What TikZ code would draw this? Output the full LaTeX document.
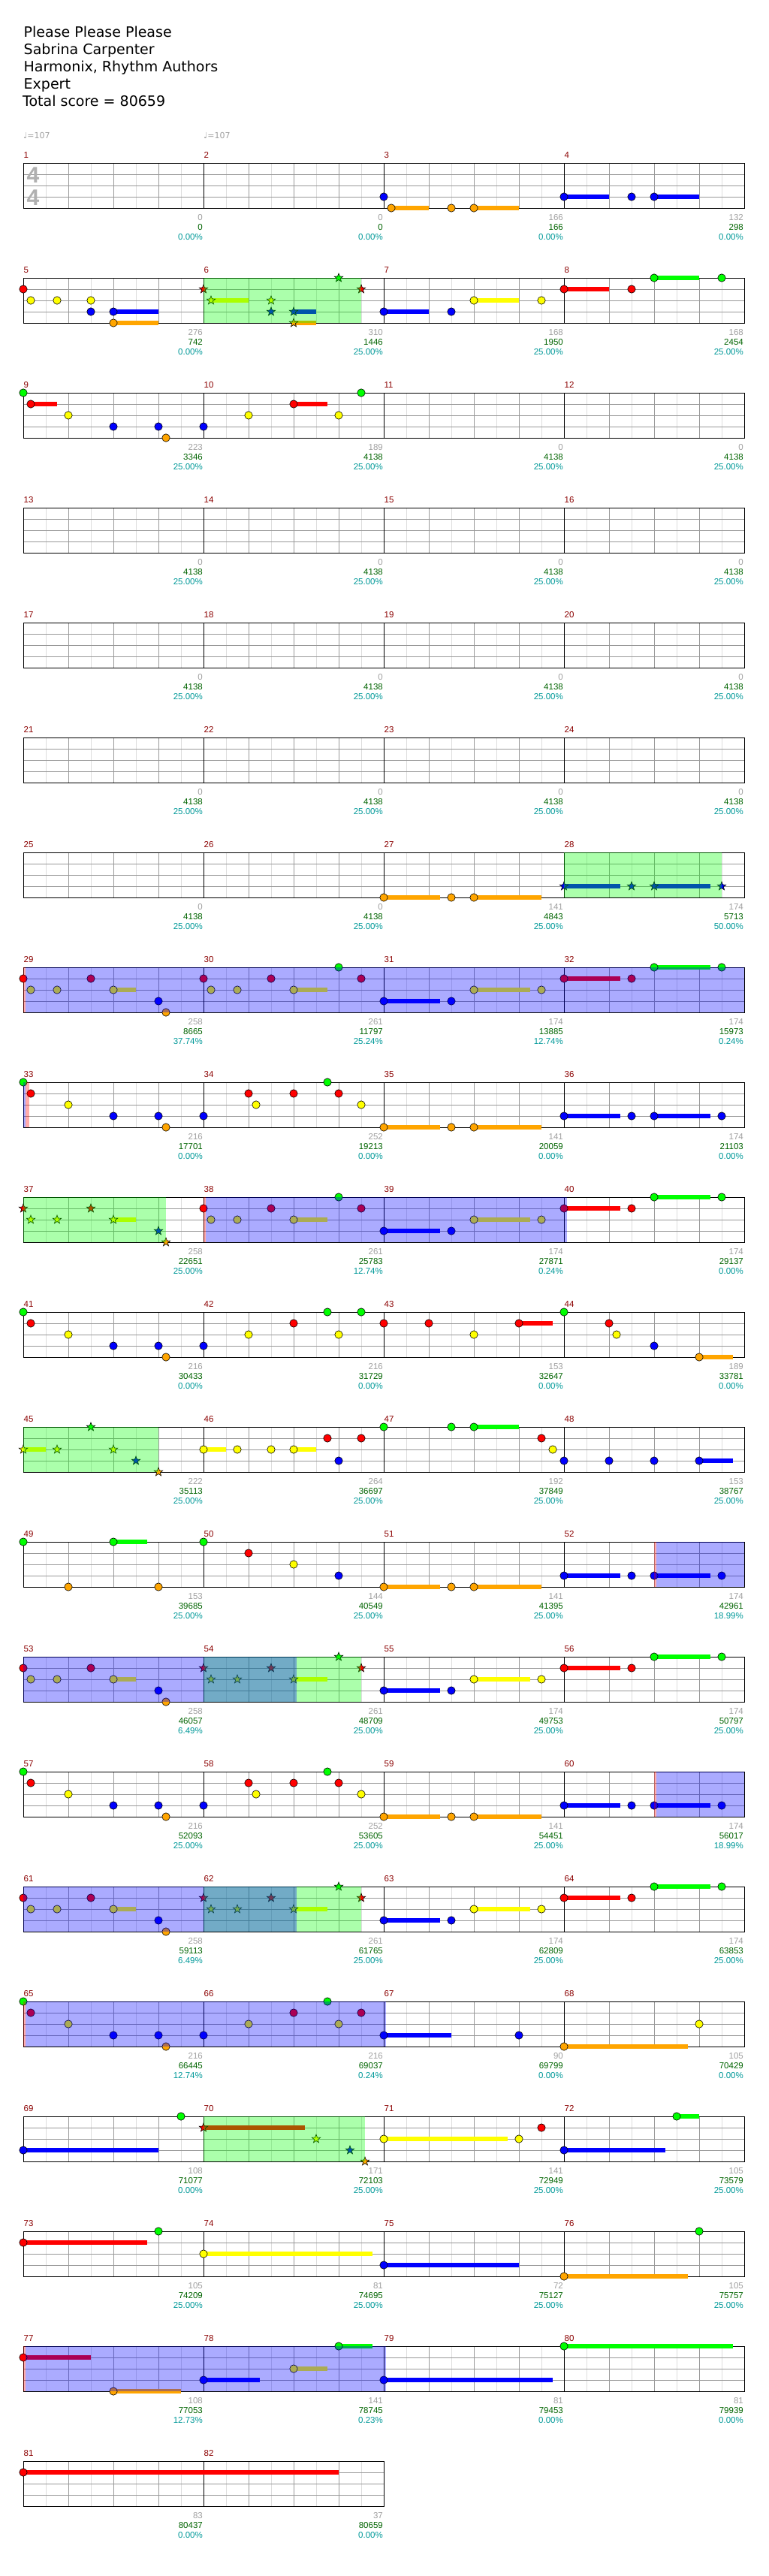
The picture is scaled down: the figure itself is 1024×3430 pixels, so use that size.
\documentclass[tikz,border=0pt]{standalone}
\usepackage{fontspec}
\setmainfont{DejaVu Sans}
\newfontfamily\labelfont{Liberation Sans}
\newfontfamily\sigfont{Liberation Sans}
\usepackage{tikz}
\definecolor{gemG}{RGB}{0,255,0}
\definecolor{gemR}{RGB}{255,0,0}
\definecolor{gemY}{RGB}{255,255,0}
\definecolor{gemB}{RGB}{0,0,255}
\definecolor{gemO}{RGB}{255,165,0}
\definecolor{LineGray}{RGB}{153,153,153}
\definecolor{FaintGray}{RGB}{221,221,221}
\definecolor{NumRed}{RGB}{139,0,0}
\definecolor{ScoreGray}{RGB}{160,160,160}
\definecolor{ScoreGreen}{RGB}{0,100,0}
\definecolor{ScoreTeal}{RGB}{0,153,153}
\definecolor{SigGray}{RGB}{176,176,176}

\def\laneG{0}\def\laneR{1}\def\laneY{2}\def\laneB{3}\def\laneO{4}

% measure, offset -> \mx (x) and \my (top of staff)
\newcommand\mpos[2]{%
  \pgfmathtruncatemacro\mrow{(#1-1)/4}%
  \pgfmathtruncatemacro\mcol{#1-1-4*\mrow}%
  \pgfmathsetmacro\mx{31+240*\mcol+#2}%
  \pgfmathsetmacro\my{217+153*\mrow}}
\newcommand\lanepos[3]{\mpos{#1}{#2}\pgfmathsetmacro\ny{\my+15*\csname lane#3\endcsname}}

\newcommand\gem[3]{\lanepos{#1}{#2}{#3}%
  \filldraw[gem, fill=gem#3] (\mx,\ny) circle[radius=5.2];}
\newcommand\sus[4]{\lanepos{#1}{#2}{#4}\pgfmathsetmacro\ex{\mx+#3-#2}%
  \fill[gem#4] (\mx,\ny-3.3) rectangle (\ex,\ny+3.3);
  \filldraw[gem, fill=gem#4] (\mx,\ny) circle[radius=5.2];}
\newcommand\stargem[3]{\lanepos{#1}{#2}{#3}%
  \filldraw[gem, fill=gem#3, shift={(\mx,\ny)}] (0,-6) -- (1.47,-2.02) -- (5.71,-1.85)
    -- (2.38,0.77) -- (3.53,4.85) -- (0,2.5) -- (-3.53,4.85) -- (-2.38,0.77)
    -- (-5.71,-1.85) -- (-1.47,-2.02) -- cycle;}
\newcommand\starsus[4]{\lanepos{#1}{#2}{#4}\pgfmathsetmacro\ex{\mx+#3-#2}%
  \fill[gem#4] (\mx,\ny-3.3) rectangle (\ex,\ny+3.3);
  \stargem{#1}{#2}{#4}}
\newcommand\zone[4]{\mpos{#1}{#2}\pgfmathsetmacro\ex{\mx+#3-#2}%
  \fill[#4, opacity=.33] (\mx,\my) rectangle (\ex,\my+60);}

\begin{document}
\begin{tikzpicture}[
    x=1pt, y=-1pt,
    faint/.style={FaintGray, line width=1pt},
    beat/.style={LineGray, line width=1pt},
    barline/.style={black, line width=1pt},
    gem/.style={draw=black, line width=0.6pt},
    head/.style={font=\fontsize{19}{23}\selectfont, anchor=base west, inner sep=0pt},
    tempo/.style={ScoreGray, font=\fontsize{11}{12}\selectfont, anchor=base west, inner sep=0pt},
    sig/.style={SigGray, font=\sigfont\bfseries\fontsize{30}{30}\selectfont, anchor=base, inner sep=0pt},
    mnum/.style={NumRed, font=\labelfont\fontsize{11.5}{12}\selectfont, anchor=base west, inner sep=0pt},
    sgray/.style={ScoreGray, font=\labelfont\fontsize{11.5}{12}\selectfont, anchor=base east, inner sep=0pt},
    sgreen/.style={sgray, ScoreGreen},
    steal/.style={sgray, ScoreTeal}
]
    \fill[white] (0,0) rectangle (1024,3430);
    \useasboundingbox (0,0) rectangle (1024,3430);

    \node[head] (song) at (31.5,49) {Please Please Please};
    \node[head] (artist) at (31.5,72) {Sabrina Carpenter};
    \node[head] (charter) at (31.5,95) {Harmonix, Rhythm Authors};
    \node[head] (level) at (31.5,118) {Expert};
    \node[head] (total) at (30,141.5) {Total score = 80659};

    \node[tempo] (bpm1) at (31,184) {♩=107};
    \node[tempo] (bpm2) at (271,184) {♩=107};

    % staves
    \foreach \r in {0,...,20} {
        \pgfmathsetmacro\yt{217+153*\r}
        \ifnum\r<20 \def\nm{4}\else\def\nm{2}\fi
        \pgfmathtruncatemacro\nb{4*\nm}
        \pgfmathsetmacro\xr{31+240*\nm}
        \foreach \k in {1,...,\nb} \draw[faint] ({1+60*\k},\yt) -- ++(0,60);
        \foreach \k in {1,...,\nb} \draw[beat] ({31+60*\k},\yt) -- ++(0,60);
        \foreach \l in {15,30,45} \draw[beat] (31,\yt+\l) -- (\xr,\yt+\l);
        \foreach \k in {1,...,\nm} \draw[barline] ({31+240*\k},\yt) -- ++(0,60);
        \draw[barline] (31,\yt) rectangle (\xr,\yt+60);
    }

    \node[sig] (sigtop) at (44,243.3) {4};
    \node[sig] (sigbot) at (44,273.3) {4};

    % notes
    \gem{3}{0}{B} \sus{3}{10}{60}{O} \gem{3}{90}{O} \sus{3}{120}{180}{O}
    \sus{4}{0}{60}{B} \gem{4}{90}{B} \sus{4}{120}{180}{B}

    \gem{5}{0}{R} \gem{5}{10}{Y} \gem{5}{45}{Y} \gem{5}{90}{Y} \gem{5}{90}{B} \sus{5}{120}{180}{B} \sus{5}{120}{180}{O}
    \stargem{6}{0}{R} \starsus{6}{10}{60}{Y} \stargem{6}{90}{Y} \stargem{6}{90}{B} \starsus{6}{120}{150}{B} \starsus{6}{120}{150}{O} \stargem{6}{180}{G} \stargem{6}{210}{R}
    \sus{7}{0}{60}{B} \gem{7}{90}{B} \sus{7}{120}{180}{Y} \gem{7}{210}{Y}
    \sus{8}{0}{60}{R} \gem{8}{90}{R} \sus{8}{120}{180}{G} \gem{8}{210}{G}

    \gem{9}{0}{G} \sus{9}{10}{45}{R} \gem{9}{60}{Y} \gem{9}{120}{B} \gem{9}{180}{B} \gem{9}{190}{O}
    \gem{10}{0}{B} \gem{10}{60}{Y} \sus{10}{120}{165}{R} \gem{10}{180}{Y} \gem{10}{210}{G}

    \sus{27}{0}{75}{O} \gem{27}{90}{O} \sus{27}{120}{210}{O}
    \starsus{28}{0}{75}{B} \stargem{28}{90}{B} \starsus{28}{120}{195}{B} \stargem{28}{210}{B}

    \gem{29}{0}{R} \gem{29}{10}{Y} \gem{29}{45}{Y} \gem{29}{90}{R} \sus{29}{120}{150}{Y} \gem{29}{180}{B} \gem{29}{190}{O}
    \gem{30}{0}{R} \gem{30}{10}{Y} \gem{30}{45}{Y} \gem{30}{90}{R} \sus{30}{120}{165}{Y} \gem{30}{180}{G} \gem{30}{210}{R}
    \sus{31}{0}{75}{B} \gem{31}{90}{B} \sus{31}{120}{195}{Y} \gem{31}{210}{Y}
    \sus{32}{0}{75}{R} \gem{32}{90}{R} \sus{32}{120}{195}{G} \gem{32}{210}{G}

    \gem{33}{0}{G} \gem{33}{10}{R} \gem{33}{60}{Y} \gem{33}{120}{B} \gem{33}{180}{B} \gem{33}{190}{O}
    \gem{34}{0}{B} \gem{34}{60}{R} \gem{34}{70}{Y} \gem{34}{120}{R} \gem{34}{165}{G} \gem{34}{180}{R} \gem{34}{210}{Y}
    \sus{35}{0}{75}{O} \gem{35}{90}{O} \sus{35}{120}{210}{O}
    \sus{36}{0}{75}{B} \gem{36}{90}{B} \sus{36}{120}{195}{B} \gem{36}{210}{B}

    \stargem{37}{0}{R} \stargem{37}{10}{Y} \stargem{37}{45}{Y} \stargem{37}{90}{R} \starsus{37}{120}{150}{Y} \stargem{37}{180}{B} \stargem{37}{190}{O}
    \gem{38}{0}{R} \gem{38}{10}{Y} \gem{38}{45}{Y} \gem{38}{90}{R} \sus{38}{120}{165}{Y} \gem{38}{180}{G} \gem{38}{210}{R}
    \sus{39}{0}{75}{B} \gem{39}{90}{B} \sus{39}{120}{195}{Y} \gem{39}{210}{Y}
    \sus{40}{0}{75}{R} \gem{40}{90}{R} \sus{40}{120}{195}{G} \gem{40}{210}{G}

    \gem{41}{0}{G} \gem{41}{10}{R} \gem{41}{60}{Y} \gem{41}{120}{B} \gem{41}{180}{B} \gem{41}{190}{O}
    \gem{42}{0}{B} \gem{42}{60}{Y} \gem{42}{120}{R} \gem{42}{165}{G} \gem{42}{180}{Y} \gem{42}{210}{G}
    \gem{43}{0}{R} \gem{43}{60}{R} \gem{43}{120}{Y} \sus{43}{180}{225}{R}
    \gem{44}{0}{G} \gem{44}{60}{R} \gem{44}{70}{Y} \gem{44}{120}{B} \sus{44}{180}{225}{O}

    \starsus{45}{0}{30}{Y} \stargem{45}{45}{Y} \stargem{45}{90}{G} \stargem{45}{120}{Y} \stargem{45}{150}{B} \stargem{45}{180}{O}
    \sus{46}{0}{30}{Y} \gem{46}{45}{Y} \gem{46}{90}{Y} \sus{46}{120}{150}{Y} \gem{46}{165}{R} \gem{46}{180}{B} \gem{46}{210}{R}
    \gem{47}{0}{G} \gem{47}{90}{G} \sus{47}{120}{180}{G} \gem{47}{210}{R} \gem{47}{225}{Y}
    \gem{48}{0}{B} \gem{48}{60}{B} \gem{48}{120}{B} \sus{48}{180}{225}{B}

    \gem{49}{0}{G} \gem{49}{60}{O} \sus{49}{120}{165}{G} \gem{49}{180}{O}
    \gem{50}{0}{G} \gem{50}{60}{R} \gem{50}{120}{Y} \gem{50}{180}{B}
    \sus{51}{0}{75}{O} \gem{51}{90}{O} \sus{51}{120}{210}{O}
    \sus{52}{0}{75}{B} \gem{52}{90}{B} \sus{52}{120}{195}{B} \gem{52}{210}{B}

    \foreach \m in {53,61} {
        \gem{\m}{0}{R} \gem{\m}{10}{Y} \gem{\m}{45}{Y} \gem{\m}{90}{R} \sus{\m}{120}{150}{Y} \gem{\m}{180}{B} \gem{\m}{190}{O}
    }
    \foreach \m in {54,62} {
        \stargem{\m}{0}{R} \stargem{\m}{10}{Y} \stargem{\m}{45}{Y} \stargem{\m}{90}{R} \starsus{\m}{120}{165}{Y} \stargem{\m}{180}{G} \stargem{\m}{210}{R}
    }
    \foreach \m in {55,63} {
        \sus{\m}{0}{75}{B} \gem{\m}{90}{B} \sus{\m}{120}{195}{Y} \gem{\m}{210}{Y}
    }
    \foreach \m in {56,64} {
        \sus{\m}{0}{75}{R} \gem{\m}{90}{R} \sus{\m}{120}{195}{G} \gem{\m}{210}{G}
    }

    \gem{57}{0}{G} \gem{57}{10}{R} \gem{57}{60}{Y} \gem{57}{120}{B} \gem{57}{180}{B} \gem{57}{190}{O}
    \gem{58}{0}{B} \gem{58}{60}{R} \gem{58}{70}{Y} \gem{58}{120}{R} \gem{58}{165}{G} \gem{58}{180}{R} \gem{58}{210}{Y}
    \sus{59}{0}{75}{O} \gem{59}{90}{O} \sus{59}{120}{210}{O}
    \sus{60}{0}{75}{B} \gem{60}{90}{B} \sus{60}{120}{195}{B} \gem{60}{210}{B}

    \gem{65}{0}{G} \gem{65}{10}{R} \gem{65}{60}{Y} \gem{65}{120}{B} \gem{65}{180}{B} \gem{65}{190}{O}
    \gem{66}{0}{B} \gem{66}{60}{Y} \gem{66}{120}{R} \gem{66}{165}{G} \gem{66}{180}{Y} \gem{66}{210}{R}
    \sus{67}{0}{90}{B} \gem{67}{180}{B}
    \sus{68}{0}{165}{O} \gem{68}{180}{Y}

    \sus{69}{0}{180}{B} \gem{69}{210}{G}
    \starsus{70}{0}{135}{R} \stargem{70}{150}{Y} \stargem{70}{195}{B} \stargem{70}{215}{O}
    \sus{71}{0}{165}{Y} \gem{71}{180}{Y} \gem{71}{210}{R}
    \sus{72}{0}{135}{B} \sus{72}{150}{180}{G}

    \sus{73}{0}{165}{R} \gem{73}{180}{G}
    \sus{74}{0}{225}{Y}
    \sus{75}{0}{180}{B}
    \sus{76}{0}{165}{O} \gem{76}{180}{G}

    \sus{77}{0}{90}{R} \sus{77}{120}{210}{O}
    \sus{78}{0}{75}{B} \sus{78}{120}{165}{Y} \sus{78}{180}{225}{G}
    \sus{79}{0}{225}{B}
    \sus{80}{0}{225}{G}

    \sus{81}{0}{420}{R}

    % overdrive and solo shading
    \zone{6}{0}{210}{green} \zone{28}{0}{210}{green} \zone{37}{0}{190}{green}
    \zone{45}{0}{180}{green} \zone{54}{0}{210}{green} \zone{62}{0}{210}{green}
    \zone{70}{0}{215}{green}
    \zone{29}{2.5}{960}{blue} \zone{33}{0}{2.5}{blue} \zone{38}{3}{484}{blue}
    \zone{52}{123}{240}{blue} \zone{53}{0}{364}{blue} \zone{60}{123}{240}{blue}
    \zone{61}{0}{364}{blue} \zone{65}{3}{483}{blue} \zone{77}{3}{483}{blue}
    \zone{29}{0}{2.5}{red} \zone{33}{2.5}{8}{red} \zone{38}{0}{3}{red}
    \zone{52}{120}{123}{red} \zone{60}{120}{123}{red} \zone{65}{0}{3}{red}
    \zone{77}{0}{3}{red}

    % measure numbers and scores
    \foreach \m/\g/\s/\p in {1/0/0/0.00, 2/0/0/0.00, 3/166/166/0.00, 4/132/298/0.00,
        5/276/742/0.00, 6/310/1446/25.00, 7/168/1950/25.00, 8/168/2454/25.00,
        9/223/3346/25.00, 10/189/4138/25.00, 11/0/4138/25.00, 12/0/4138/25.00,
        13/0/4138/25.00, 14/0/4138/25.00, 15/0/4138/25.00, 16/0/4138/25.00,
        17/0/4138/25.00, 18/0/4138/25.00, 19/0/4138/25.00, 20/0/4138/25.00,
        21/0/4138/25.00, 22/0/4138/25.00, 23/0/4138/25.00, 24/0/4138/25.00,
        25/0/4138/25.00, 26/0/4138/25.00, 27/141/4843/25.00, 28/174/5713/50.00,
        29/258/8665/37.74, 30/261/11797/25.24, 31/174/13885/12.74, 32/174/15973/0.24,
        33/216/17701/0.00, 34/252/19213/0.00, 35/141/20059/0.00, 36/174/21103/0.00,
        37/258/22651/25.00, 38/261/25783/12.74, 39/174/27871/0.24, 40/174/29137/0.00,
        41/216/30433/0.00, 42/216/31729/0.00, 43/153/32647/0.00, 44/189/33781/0.00,
        45/222/35113/25.00, 46/264/36697/25.00, 47/192/37849/25.00, 48/153/38767/25.00,
        49/153/39685/25.00, 50/144/40549/25.00, 51/141/41395/25.00, 52/174/42961/18.99,
        53/258/46057/6.49, 54/261/48709/25.00, 55/174/49753/25.00, 56/174/50797/25.00,
        57/216/52093/25.00, 58/252/53605/25.00, 59/141/54451/25.00, 60/174/56017/18.99,
        61/258/59113/6.49, 62/261/61765/25.00, 63/174/62809/25.00, 64/174/63853/25.00,
        65/216/66445/12.74, 66/216/69037/0.24, 67/90/69799/0.00, 68/105/70429/0.00,
        69/108/71077/0.00, 70/171/72103/25.00, 71/141/72949/25.00, 72/105/73579/25.00,
        73/105/74209/25.00, 74/81/74695/25.00, 75/72/75127/25.00, 76/105/75757/25.00,
        77/108/77053/12.73, 78/141/78745/0.23, 79/81/79453/0.00, 80/81/79939/0.00,
        81/83/80437/0.00, 82/37/80659/0.00} {
        \mpos{\m}{0}
        \node[mnum] (num\m) at (\mx+0.5,\my-6.5) {\m};
        \node[sgray] (pts\m) at (\mx+239,\my+76) {\g};
        \node[sgreen] (sum\m) at (\mx+239,\my+89) {\s};
        \node[steal] (pct\m) at (\mx+239,\my+102) {\p\%};
    }
\end{tikzpicture}
\end{document}
